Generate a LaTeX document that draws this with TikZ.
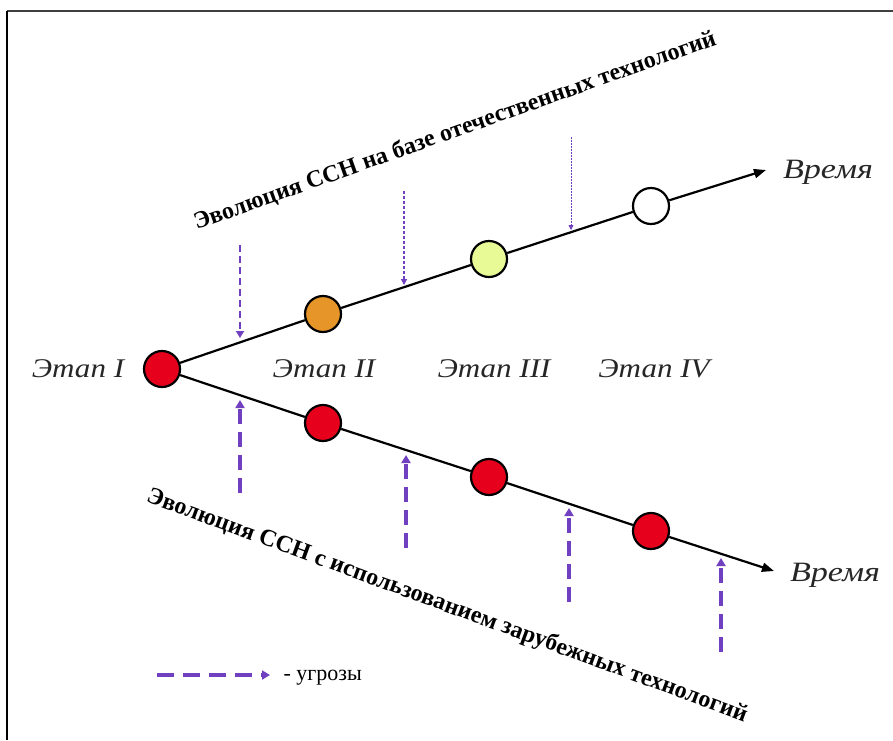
\documentclass[tikz,border=0pt]{standalone}
\usepackage{fontspec}
\setmainfont{Liberation Serif}
\usetikzlibrary{arrows.meta}
\definecolor{thr}{RGB}{112,64,192}
\definecolor{cred}{RGB}{230,0,28}
\definecolor{corange}{RGB}{230,150,40}
\definecolor{cyel}{RGB}{232,250,150}
\begin{document}
\begin{tikzpicture}[x=1pt,y=-1pt,
  stage/.style={circle,draw=black,line width=2.2pt,minimum size=36pt,inner sep=0pt},
  mainline/.style={line width=2.2pt,draw=black},
  lbl/.style={font=\fontsize{27}{30}\selectfont\itshape,xscale=1.15,text=black!85},
  tlbl/.style={font=\fontsize{28}{30}\selectfont\itshape,xscale=1.22,text=black!85},
  title/.style={font=\fontsize{24}{27}\selectfont\bfseries},
  thrA/.style={thr,line width=2.4pt,dash pattern=on 7pt off 4pt,-{Triangle[length=7pt,width=8pt]}},
  thrB/.style={thr,line width=1.3pt,dash pattern=on 3pt off 2pt,-{Triangle[length=6pt,width=6pt]}},
  thrC/.style={thr,line width=0.8pt,dash pattern=on 1.5pt off 1.5pt,-{Triangle[length=5pt,width=5pt]}},
  thrD/.style={thr,line width=3.5pt,dash pattern=on 15pt off 8pt,-{Triangle[length=8pt,width=9pt]}}
]
\useasboundingbox (0,0) rectangle (893,740);
% frame
\draw[line width=2pt,black!75] (893,11) -- (7,11);
\draw[line width=2pt,black] (7,11) -- (7,740);

% main lines
\coordinate (ue) at (766,170);
\coordinate (de) at (774,571);
\node[stage,fill=cred] (s1) at (162,369) {};
\node[stage,fill=corange] (u2) at (323,314) {};
\node[stage,fill=cyel] (u3) at (489,259) {};
\node[stage,fill=white] (u4) at (651,206) {};
\node[stage,fill=cred] (d2) at (323,423) {};
\node[stage,fill=cred] (d3) at (489,477) {};
\node[stage,fill=cred] (d4) at (651,531) {};

\draw[mainline] (s1) -- (u2) -- (u3) -- (u4);
\draw[mainline,-{Triangle[length=12pt,width=9pt]}] (u4) -- (ue);
\draw[mainline] (s1) -- (d2) -- (d3) -- (d4);
\draw[mainline,-{Triangle[length=12pt,width=9pt]}] (d4) -- (de);

% labels
\node[lbl] (l1) at (78,369) {Этап I};
\node[lbl] (l2) at (324,369) {Этап II};
\node[lbl] (l3) at (494,369) {Этап III};
\node[lbl] (l4) at (654,369) {Этап IV};
\node[tlbl] (t1) at (828,172) {Время};
\node[tlbl] (t2) at (835,575) {Время};

% titles
\node[title,rotate=19.6] (h1) at (455,131) {Эволюция ССН на базе отечественных технологий};
\node[title,rotate=-20.2] (h2) at (447,606) {Эволюция ССН с использованием зарубежных технологий};

% threats upper
\coordinate (a1s) at (240,245); \coordinate (a1e) at (240,338);
\coordinate (a2s) at (404,191); \coordinate (a2e) at (404,285);
\coordinate (a3s) at (571,137); \coordinate (a3e) at (571,230);
\draw[thrA] (a1s) -- (a1e);
\draw[thrB] (a2s) -- (a2e);
\draw[thrC] (a3s) -- (a3e);
% threats lower
\coordinate (b1s) at (240,493); \coordinate (b1e) at (240,400);
\coordinate (b2s) at (406,548); \coordinate (b2e) at (406,455);
\coordinate (b3s) at (569,602); \coordinate (b3e) at (569,508);
\coordinate (b4s) at (721,652); \coordinate (b4e) at (721,558);
\draw[thrD] (b1s) -- (b1e);
\draw[thrD] (b2s) -- (b2e);
\draw[thrD] (b3s) -- (b3e);
\draw[thrD] (b4s) -- (b4e);

% legend
\coordinate (ls) at (157,675); \coordinate (le) at (270,675);
\draw[thr,line width=3.5pt,dash pattern=on 17pt off 9pt,-{Triangle[length=8pt,width=9pt]}] (ls) -- (le);
\node[font=\fontsize{22}{24}\selectfont,anchor=west] (lt) at (280,678) {- угрозы};
\end{tikzpicture}
\end{document}
